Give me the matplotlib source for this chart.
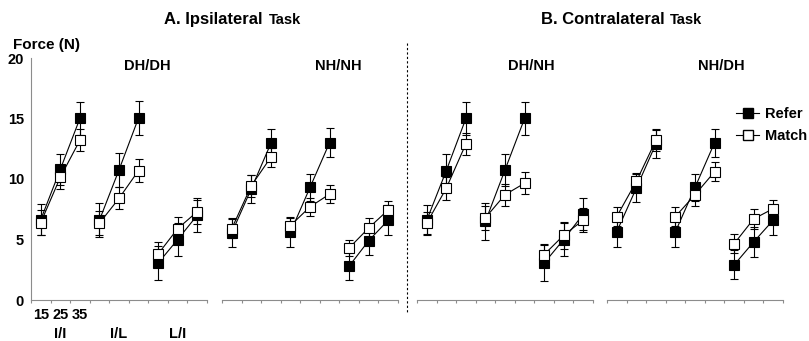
import numpy as np
import matplotlib.pyplot as plt
from matplotlib.lines import Line2D

plt.rcParams['font.family'] = ['Liberation Sans', 'DejaVu Sans']
plt.rcParams['font.weight'] = 'bold'

forces = ['15', '25', '35']
conds = ['I/I', 'I/L', 'L/I']
panels = ['DH/DH', 'NH/NH', 'DH/NH', 'NH/DH']

# per panel: I/I 15,25,35 | I/L 15,25,35 | L/I 15,25,35
refer_dhdh = [6.65, 10.8, 15.0, 6.6, 10.75, 15.05, 3.05, 5.0, 7.0]
refer_dhdh_err = [1.3, 1.3, 1.4, 1.4, 1.4, 1.4, 1.4, 1.4, 1.4]
match_dhdh = [6.4, 10.15, 13.2, 6.35, 8.4, 10.7, 3.8, 5.9, 7.3]
match_dhdh_err = [1.0, 1.0, 0.9, 1.0, 0.9, 0.95, 1.0, 1.0, 1.0]

refer_nhnh = [5.55, 9.2, 12.95, 5.6, 9.3, 13.0, 2.8, 4.9, 6.6]
refer_nhnh_err = [1.2, 1.15, 1.15, 1.2, 1.1, 1.2, 1.15, 1.2, 1.25]
match_nhnh = [5.9, 9.45, 11.8, 6.15, 7.7, 8.75, 4.3, 5.95, 7.45]
match_nhnh_err = [0.8, 0.9, 0.8, 0.7, 0.75, 0.75, 0.7, 0.8, 0.75]

refer_dhnh = [6.6, 10.7, 15.0, 6.5, 10.75, 15.0, 3.05, 5.0, 7.1]
refer_dhnh_err = [1.25, 1.35, 1.4, 1.5, 1.3, 1.4, 1.5, 1.4, 1.35]
match_dhnh = [6.35, 9.25, 12.9, 6.8, 8.7, 9.65, 3.75, 5.35, 6.6]
match_dhnh_err = [0.9, 0.95, 0.9, 1.0, 0.9, 0.9, 0.9, 1.1, 1.0]

refer_nhdh = [5.65, 9.25, 12.9, 5.65, 9.3, 13.0, 2.9, 4.8, 6.6]
refer_nhdh_err = [1.25, 1.15, 1.15, 1.25, 1.1, 1.15, 1.2, 1.25, 1.2]
match_nhdh = [6.9, 9.8, 13.2, 6.9, 8.7, 10.6, 4.65, 6.7, 7.55]
match_nhdh_err = [0.8, 0.7, 0.9, 0.8, 0.9, 0.8, 0.8, 0.8, 0.75]

data = {
    'DH/DH': (refer_dhdh, refer_dhdh_err, match_dhdh, match_dhdh_err),
    'NH/NH': (refer_nhnh, refer_nhnh_err, match_nhnh, match_nhnh_err),
    'DH/NH': (refer_dhnh, refer_dhnh_err, match_dhnh, match_dhnh_err),
    'NH/DH': (refer_nhdh, refer_nhdh_err, match_nhdh, match_nhdh_err),
}

W, H = 809, 341
fig = plt.figure(figsize=(W / 100, H / 100), dpi=100)
lefts = [31, 222, 417, 607]
title_x = [147, 338, 531, 721]
grey = '#8c8c8c'

for k, name in enumerate(panels):
    ax = fig.add_axes([lefts[k] / W, (H - 300) / H, 176 / W, 242 / H])
    r, re, m, me = data[name]
    x = np.arange(9) + 0.5
    for g in range(3):
        s = slice(3 * g, 3 * g + 3)
        ax.errorbar(x[s], r[s], yerr=re[s], color='k', lw=0.8, marker='s', ms=7,
                    mfc='k', mec='k', mew=0.8, capsize=3, elinewidth=0.8,
                    capthick=0.8, zorder=2)
        ax.errorbar(x[s], m[s], yerr=me[s], color='k', lw=0.8, marker='s', ms=7,
                    mfc='white', mec='k', mew=0.8, capsize=3, elinewidth=0.8,
                    capthick=0.8, zorder=3)
    ax.set_xlim(0, 9)
    ax.set_ylim(0, 20)
    ax.set_xticks(range(10))
    ax.set_xticklabels([])
    ax.tick_params(axis='x', direction='out', length=2.5, width=0.8, color=grey)
    for sp in ['top', 'right']:
        ax.spines[sp].set_visible(False)
    ax.spines['bottom'].set_color(grey)
    ax.spines['bottom'].set_linewidth(0.8)
    if k == 0:
        ax.spines['left'].set_color(grey)
        ax.spines['left'].set_linewidth(0.8)
        ax.set_yticks([0, 5, 10, 15, 20])
        ax.tick_params(axis='y', length=0, pad=5, labelsize=10.5)
        for i, f in enumerate(forces):
            ax.annotate(f, (x[i], 0), xycoords='data', xytext=(0, -11),
                        textcoords='offset points', ha='center', va='center',
                        fontsize=10.5, fontweight='bold', annotation_clip=False)
        for g, c in enumerate(conds):
            ax.annotate(c, (x[3 * g + 1], 0), xycoords='data', xytext=(0, -24.5),
                        textcoords='offset points', ha='center', va='center',
                        fontsize=10.5, fontweight='bold', annotation_clip=False)
    else:
        ax.spines['left'].set_visible(False)
        ax.set_yticks([])
    fig.text(title_x[k] / W, 1 - 66 / H, name, ha='center', va='center',
             fontsize=10.5, fontweight='bold')

fig.text(13 / W, 1 - 49 / H, 'Force (N)', ha='left', va='baseline', fontsize=11)
fig.text(263 / W, 1 - 24 / H, 'A. Ipsilateral', ha='right', va='baseline', fontsize=12)
fig.text(269 / W, 1 - 24 / H, 'Task', ha='left', va='baseline', fontsize=10.5)
fig.text(665 / W, 1 - 24 / H, 'B. Contralateral', ha='right', va='baseline', fontsize=12)
fig.text(670 / W, 1 - 24 / H, 'Task', ha='left', va='baseline', fontsize=10.5)

fig.add_artist(Line2D([406.5 / W, 406.5 / W], [1 - 43 / H, 1 - 313 / H], color='k',
                      lw=0.8, ls=(0, (2, 2))))

handles = [
    Line2D([], [], color='k', lw=0.8, marker='s', ms=7, mfc='k', mec='k'),
    Line2D([], [], color='k', lw=0.8, marker='s', ms=7, mfc='white', mec='k'),
]
fig.legend(handles, ['Refer', 'Match'], loc='center left',
           bbox_to_anchor=(736 / W, 1 - 125 / H), frameon=False, borderpad=0,
           borderaxespad=0, handlelength=1.6, handletextpad=0.4,
           labelspacing=0.6, fontsize=10.5)

fig.savefig('out.png', dpi=100)
